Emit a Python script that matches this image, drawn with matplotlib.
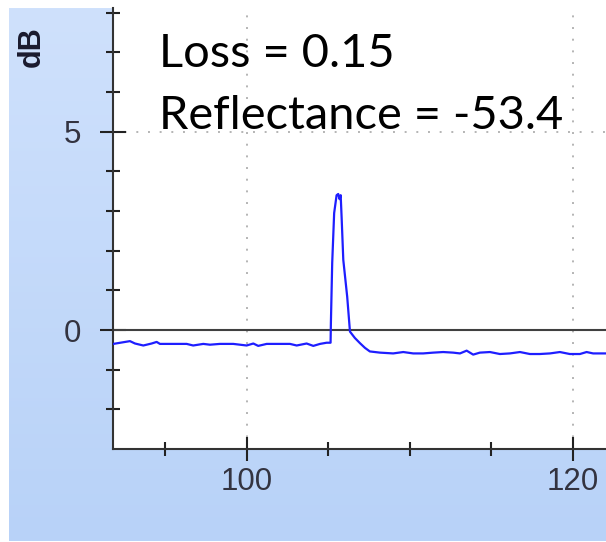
import numpy as np
import matplotlib
matplotlib.use('Agg')
import matplotlib.pyplot as plt
from matplotlib.ticker import FixedLocator

# trace (distance, dB)
dist = [91.82, 92.84, 93.15, 93.66, 94.17, 94.48, 94.68, 95.50, 96.32, 96.72,
        97.34, 97.75, 98.36, 99.18, 100.0, 100.41, 100.71, 101.23, 101.84, 102.66,
        103.07, 103.68, 104.09, 104.50, 104.91,
        105.15, 105.17, 105.25, 105.37, 105.52, 105.62, 105.70, 105.77, 105.83, 105.93,
        106.17, 106.34, 106.64, 106.95, 107.26, 107.56,
        108.18, 108.99, 109.61, 110.22, 110.83, 111.45, 112.06, 112.67, 113.09, 113.50,
        113.90, 114.31, 114.93, 115.54, 116.15, 116.77, 117.38, 117.99, 118.61, 119.22,
        119.83, 120.45, 120.86, 121.26, 122.04]
db = [-0.35, -0.28, -0.34, -0.39, -0.34, -0.30, -0.35, -0.35, -0.35, -0.39,
      -0.35, -0.37, -0.35, -0.35, -0.39, -0.34, -0.40, -0.35, -0.35, -0.35,
      -0.39, -0.34, -0.40, -0.35, -0.32,
      -0.32, 0.18, 1.69, 2.95, 3.40, 3.43, 3.30, 3.40, 2.82, 1.77,
      0.84, -0.04, -0.20, -0.33, -0.45, -0.54,
      -0.57, -0.59, -0.555, -0.59, -0.59, -0.57, -0.555, -0.57, -0.59, -0.52,
      -0.62, -0.57, -0.555, -0.605, -0.59, -0.555, -0.605, -0.605, -0.59, -0.555,
      -0.605, -0.605, -0.555, -0.59, -0.59]

loss_txt = 'Loss = 0.15'
refl_txt = 'Reflectance = -53.4'
W, H = 606, 542

fig = plt.figure(figsize=(W / 100, H / 100), dpi=100)
fig.patch.set_facecolor('white')

# blue gradient panel behind the plot
bg = fig.add_axes([9 / W, 1 - 541 / H, (W - 9) / W, (541 - 8) / H])
top = np.array([207, 225, 252]) / 255
bot = np.array([184, 210, 248]) / 255
grad = np.linspace(0, 1, 256)[:, None, None]
img = top * (1 - grad) + bot * grad
bg.imshow(img, aspect='auto', extent=[0, 1, 0, 1])
bg.set_axis_off()

ax = fig.add_axes([113 / W, 1 - 449 / H, (W - 113) / W, (449 - 8) / H])
ax.set_facecolor('white')
ax.set_xlim(91.8, 122.05)
ax.set_ylim(-3.0, 8.12)

gridcol = '#b4b4b4'
for xv in [100, 120]:
    ax.axvline(xv, color=gridcol, lw=1.4, ls=(0, (1, 5)), zorder=1)
ax.axhline(5, color=gridcol, lw=1.4, ls=(0, (1, 5)), zorder=1)
ax.axhline(0, color='#404040', lw=1.5, zorder=2)

ax.plot(dist, db, color='#1e1eff', lw=1.6, zorder=3)

for s in ['top', 'right']:
    ax.spines[s].set_visible(False)
for s in ['left', 'bottom']:
    ax.spines[s].set_color('#333333')
    ax.spines[s].set_linewidth(1.5)

ax.xaxis.set_major_locator(FixedLocator([100, 120]))
ax.xaxis.set_minor_locator(FixedLocator([95, 105, 110, 115]))
ax.yaxis.set_major_locator(FixedLocator([0, 5]))
ax.yaxis.set_minor_locator(FixedLocator([-2, -1, 1, 2, 3, 4, 6, 7, 8]))

ax.tick_params(axis='both', which='both', direction='inout', color='#222222', width=1.5,
               labelcolor='#333340', labelfontfamily='Liberation Sans', labelsize=22.5)
ax.tick_params(axis='y', which='major', length=19.4, pad=13)
ax.tick_params(axis='y', which='minor', length=10)
ax.tick_params(axis='x', which='major', length=17.3, pad=4)
ax.tick_params(axis='x', which='minor', length=9.4)

fig.text(32 / W, 1 - 47 / H, 'dB', rotation=90, ha='center', va='center',
         fontsize=22, fontweight='bold', family='Liberation Sans', color='#1a1a2e')

fig.text(159 / W, 1 - 67 / H, loss_txt, family='Lato', fontsize=33.8,
         color='black', va='baseline', ha='left')
fig.text(159 / W, 1 - 129 / H, refl_txt, family='Lato', fontsize=33.8,
         color='black', va='baseline', ha='left')

fig.savefig('out.png', dpi=100)
